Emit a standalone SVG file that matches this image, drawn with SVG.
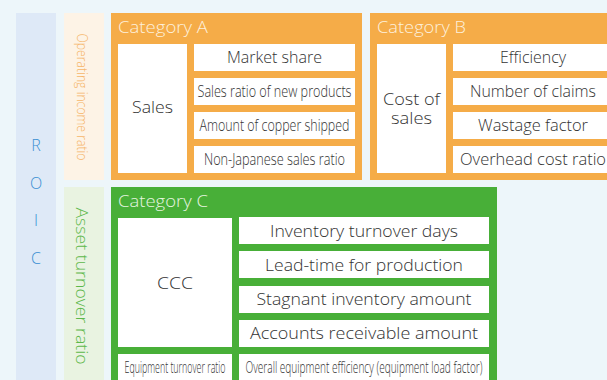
<svg xmlns="http://www.w3.org/2000/svg" width="607" height="380" viewBox="0 0 607 380">
<style>
text{font-family:"Open Sans","Noto Sans","Liberation Sans",sans-serif;font-weight:300;}
.w{fill:#ffffff;}
.t{fill:#333333;font-size:16px;text-anchor:middle;}
.s{fill:#333333;font-size:16px;text-anchor:middle;}
.h{fill:#fdf0dd;font-size:17px;}
.hg{fill:#e6f5e0;font-size:17px;}
.roic{fill:#3b8fd3;font-size:16px;text-anchor:middle;}
</style>
<rect x="0" y="0" width="607" height="380" fill="#edf6fa"/>
<g id="roic">
<rect x="16" y="13" width="40" height="380" fill="#dee9f7"/>
<text class="roic" x="36" y="151">R</text>
<text class="roic" x="36" y="189">O</text>
<text class="roic" x="36" y="226">I</text>
<text class="roic" x="36" y="264">C</text>
</g>
<g id="operating-income-ratio">
<rect x="64" y="13" width="40" height="167" fill="#fdf3e6"/>
<text transform="translate(77,97) rotate(90)" x="0" y="0" font-size="14" fill="#f6b66a" text-anchor="middle" textLength="127" lengthAdjust="spacingAndGlyphs">Operating income ratio</text>
</g>
<g id="asset-turnover-ratio">
<rect x="64" y="187" width="40" height="200" fill="#e9f3e1"/>
<text transform="translate(76,286) rotate(90)" x="0" y="0" font-size="16" fill="#5cb84a" text-anchor="middle" textLength="157" lengthAdjust="spacingAndGlyphs">Asset turnover ratio</text>
</g>
<g id="category-a">
<rect x="111" y="13" width="251" height="167" fill="#f5ac48"/>
<text class="h" x="118" y="33" textLength="90" lengthAdjust="spacingAndGlyphs">Category A</text>
<rect class="w" x="118" y="44" width="69" height="129"/>
<text class="t" x="152.5" y="113" textLength="41" lengthAdjust="spacingAndGlyphs">Sales</text>
<rect class="w" x="194" y="44" width="161" height="27"/>
<text class="t" x="274.5" y="63" textLength="95" lengthAdjust="spacingAndGlyphs">Market share</text>
<rect class="w" x="194" y="78" width="161" height="27"/>
<text class="s" x="274.5" y="97" textLength="154" lengthAdjust="spacingAndGlyphs">Sales ratio of new products</text>
<rect class="w" x="194" y="112" width="161" height="27"/>
<text class="s" x="274.5" y="131" textLength="150" lengthAdjust="spacingAndGlyphs">Amount of copper shipped</text>
<rect class="w" x="194" y="146" width="161" height="27"/>
<text class="s" x="274.5" y="165" textLength="141" lengthAdjust="spacingAndGlyphs">Non-Japanese sales ratio</text>
</g>
<g id="category-b">
<rect x="370" y="13" width="250" height="167" fill="#f5ac48"/>
<text class="h" x="377" y="33" textLength="89" lengthAdjust="spacingAndGlyphs">Category B</text>
<rect class="w" x="377" y="44" width="69" height="129"/>
<text class="t" x="411.5" y="105" textLength="57" lengthAdjust="spacingAndGlyphs">Cost of</text>
<text class="t" x="411.5" y="124" textLength="41" lengthAdjust="spacingAndGlyphs">sales</text>
<rect class="w" x="453" y="44" width="161" height="27"/>
<text class="t" x="533" y="63" textLength="66" lengthAdjust="spacingAndGlyphs">Efficiency</text>
<rect class="w" x="453" y="78" width="161" height="27"/>
<text class="t" x="533" y="97" textLength="126" lengthAdjust="spacingAndGlyphs">Number of claims</text>
<rect class="w" x="453" y="112" width="161" height="27"/>
<text class="t" x="533" y="131" textLength="110" lengthAdjust="spacingAndGlyphs">Wastage factor</text>
<rect class="w" x="453" y="146" width="161" height="27"/>
<text class="t" x="533" y="165" textLength="146" lengthAdjust="spacingAndGlyphs">Overhead cost ratio</text>
</g>
<g id="category-c">
<rect x="111" y="187" width="386" height="200" fill="#48af38"/>
<text class="hg" x="118" y="207" textLength="90" lengthAdjust="spacingAndGlyphs">Category C</text>
<rect class="w" x="118" y="218" width="114" height="129"/>
<text class="t" x="175" y="289" font-size="17" textLength="36" lengthAdjust="spacingAndGlyphs">CCC</text>
<rect class="w" x="239" y="217" width="250" height="27"/>
<text class="t" x="364" y="237" textLength="188" lengthAdjust="spacingAndGlyphs">Inventory turnover days</text>
<rect class="w" x="239" y="251" width="250" height="27"/>
<text class="t" x="364" y="271" textLength="198" lengthAdjust="spacingAndGlyphs">Lead-time for production</text>
<rect class="w" x="239" y="286" width="250" height="27"/>
<text class="t" x="364" y="305" textLength="215" lengthAdjust="spacingAndGlyphs">Stagnant inventory amount</text>
<rect class="w" x="239" y="320" width="250" height="27"/>
<text class="t" x="364" y="339" textLength="228" lengthAdjust="spacingAndGlyphs">Accounts receivable amount</text>
<rect class="w" x="118" y="354" width="114" height="40"/>
<text class="s" x="175" y="373" textLength="101" lengthAdjust="spacingAndGlyphs">Equipment turnover ratio</text>
<rect class="w" x="239" y="354" width="250" height="40"/>
<text class="s" x="364" y="373" textLength="237" lengthAdjust="spacingAndGlyphs">Overall equipment efficiency (equipment load factor)</text>
</g>
<g id="connectors"></g>
</svg>
